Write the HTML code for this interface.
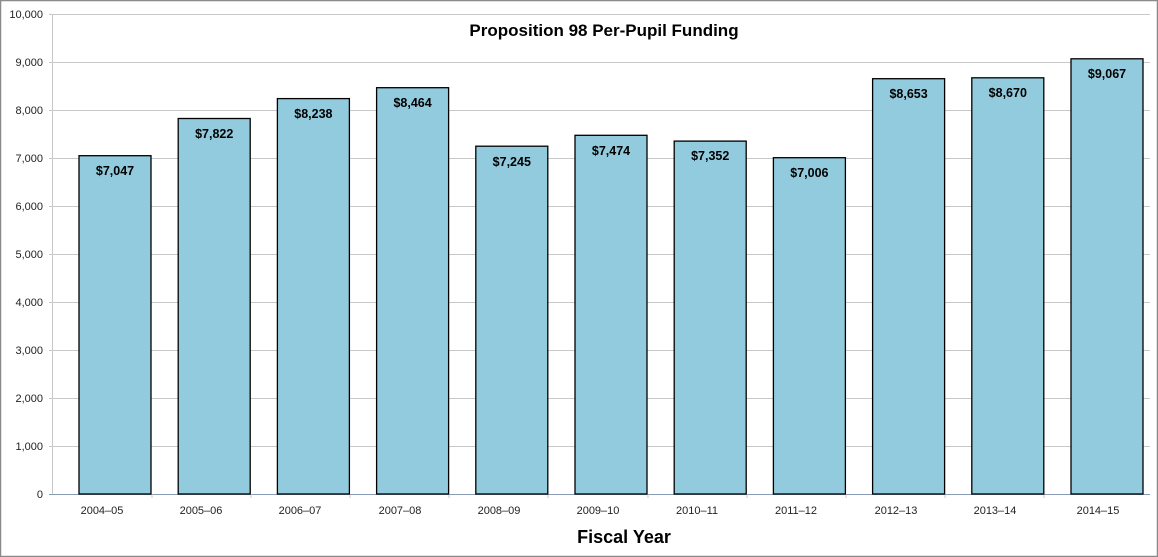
<!DOCTYPE html>
<html><head><style>
html,body{margin:0;padding:0;background:#fff}
svg{display:block}
text{font-family:"Liberation Sans",Arial,sans-serif}
</style></head><body>
<svg width="1158" height="557" viewBox="0 0 1158 557" xmlns="http://www.w3.org/2000/svg">
<rect x="0.5" y="0.5" width="1157" height="556" fill="#fff" stroke="#8a8a8a" stroke-width="1.5"/>
<g stroke="#c8c8c8" stroke-width="1">
<line x1="49" x2="1150" y1="14.5" y2="14.5"/>
<line x1="49" x2="1150" y1="62.5" y2="62.5"/>
<line x1="49" x2="1150" y1="110.5" y2="110.5"/>
<line x1="49" x2="1150" y1="158.5" y2="158.5"/>
<line x1="49" x2="1150" y1="206.5" y2="206.5"/>
<line x1="49" x2="1150" y1="254.5" y2="254.5"/>
<line x1="49" x2="1150" y1="302.5" y2="302.5"/>
<line x1="49" x2="1150" y1="350.5" y2="350.5"/>
<line x1="49" x2="1150" y1="398.5" y2="398.5"/>
<line x1="49" x2="1150" y1="446.5" y2="446.5"/>
<line x1="52.5" x2="52.5" y1="14" y2="494"/>
</g>
<line x1="49" x2="1150" y1="494.5" y2="494.5" stroke="#8a9bb5" stroke-width="1"/>
<g stroke="#c8c8c8">
<line x1="152" x2="152" y1="494" y2="498"/><line x1="251" x2="251" y1="494" y2="498"/><line x1="350" x2="350" y1="494" y2="498"/><line x1="449" x2="449" y1="494" y2="498"/><line x1="548" x2="548" y1="494" y2="498"/><line x1="648" x2="648" y1="494" y2="498"/><line x1="747" x2="747" y1="494" y2="498"/><line x1="846" x2="846" y1="494" y2="498"/><line x1="945" x2="945" y1="494" y2="498"/><line x1="1044" x2="1044" y1="494" y2="498"/>
</g>
<g font-size="11" fill="#222" text-anchor="end">
<text x="43" y="18">10,000</text><text x="43" y="66">9,000</text><text x="43" y="114">8,000</text><text x="43" y="162">7,000</text><text x="43" y="210">6,000</text><text x="43" y="258">5,000</text><text x="43" y="306">4,000</text><text x="43" y="354">3,000</text><text x="43" y="402">2,000</text><text x="43" y="450">1,000</text><text x="43" y="498">0</text>
</g>
<text x="604" y="36" font-size="17" font-weight="bold" text-anchor="middle" fill="#000">Proposition 98 Per-Pupil Funding</text>
<g fill="#92cbdd" stroke="#000" stroke-width="1.3">
<rect x="79" y="155.7" width="72" height="338.3"/>
<rect x="178.2" y="118.5" width="72" height="375.5"/>
<rect x="277.4" y="98.6" width="72" height="395.4"/>
<rect x="376.6" y="87.7" width="72" height="406.3"/>
<rect x="475.8" y="146.2" width="72" height="347.8"/>
<rect x="575" y="135.3" width="72" height="358.7"/>
<rect x="674.2" y="141.1" width="72" height="352.9"/>
<rect x="773.4" y="157.7" width="72" height="336.3"/>
<rect x="872.6" y="78.7" width="72" height="415.3"/>
<rect x="971.8" y="77.8" width="72" height="416.2"/>
<rect x="1071" y="58.8" width="72" height="435.2"/>
</g>
<g font-size="12.5" font-weight="bold" fill="#000" text-anchor="middle">
<text x="115" y="175">$7,047</text>
<text x="214.2" y="138">$7,822</text>
<text x="313.4" y="118">$8,238</text>
<text x="412.6" y="107">$8,464</text>
<text x="511.8" y="166">$7,245</text>
<text x="611" y="155">$7,474</text>
<text x="710.2" y="160">$7,352</text>
<text x="809.4" y="177">$7,006</text>
<text x="908.6" y="98">$8,653</text>
<text x="1007.8" y="97">$8,670</text>
<text x="1107" y="78">$9,067</text>
</g>
<g font-size="11" fill="#222" text-anchor="middle">
<text x="102" y="514">2004–05</text><text x="201" y="514">2005–06</text><text x="300" y="514">2006–07</text><text x="400" y="514">2007–08</text><text x="499" y="514">2008–09</text><text x="598" y="514">2009–10</text><text x="697" y="514">2010–11</text><text x="796" y="514">2011–12</text><text x="896" y="514">2012–13</text><text x="995" y="514">2013–14</text><text x="1098" y="514">2014–15</text>
</g>
<text x="624" y="543" font-size="18" font-weight="bold" text-anchor="middle" fill="#000">Fiscal Year</text>
</svg>
</body></html>
